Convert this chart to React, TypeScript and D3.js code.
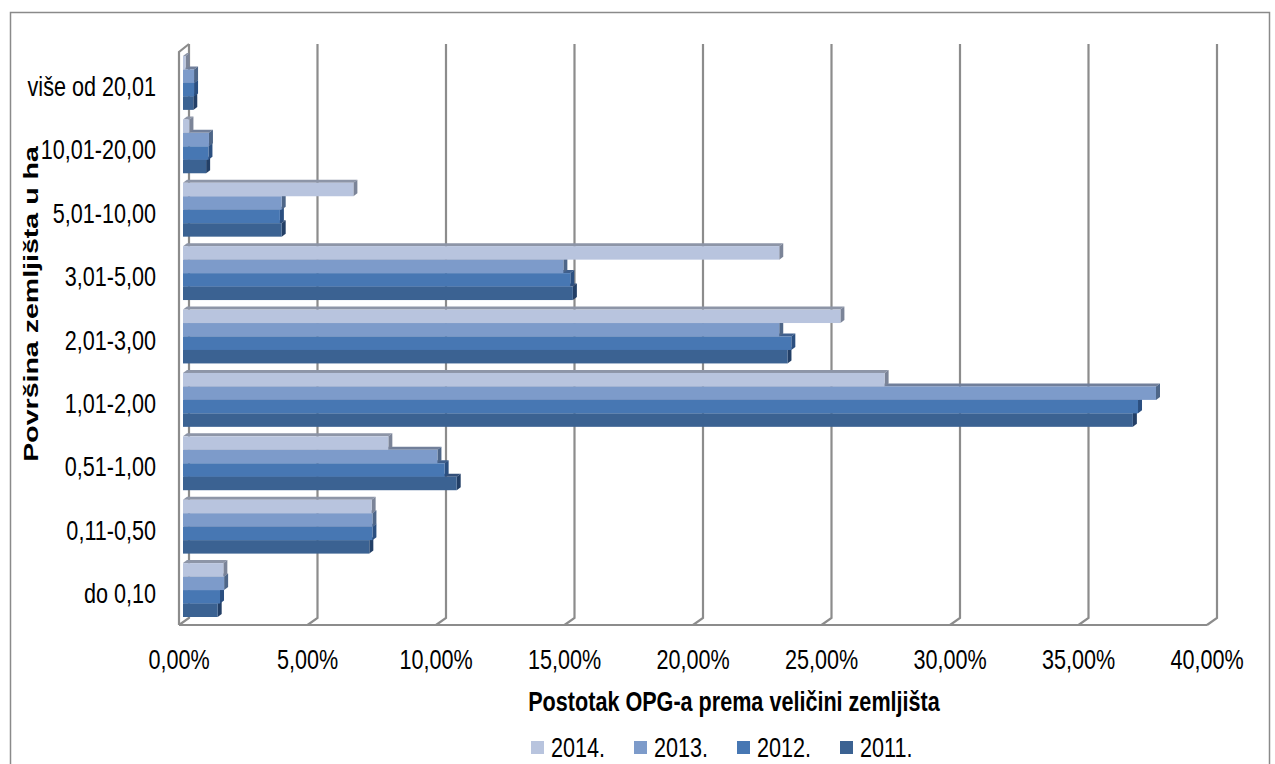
import React from "react";
import * as d3 from "d3";

const categories = ["do 0,10", "0,11-0,50", "0,51-1,00", "1,01-2,00", "2,01-3,00", "3,01-5,00", "5,01-10,00", "10,01-20,00", "više od 20,01"];
const years = ["2014.", "2013.", "2012.", "2011."];
const s2014 = [1.57, 7.34, 7.99, 27.3, 25.58, 23.2, 6.63, 0.25, 0.1];
const s2013 = [1.6, 7.37, 9.9, 37.86, 23.2, 14.8, 3.84, 1.01, 0.43];
const s2012 = [1.44, 7.37, 10.18, 37.16, 23.67, 15.07, 3.77, 0.99, 0.43];
const s2011 = [1.35, 7.25, 10.65, 36.96, 23.52, 15.17, 3.84, 0.9, 0.4];
const seriesValues = [s2014, s2013, s2012, s2011];
const tickValues = [0, 5, 10, 15, 20, 25, 30, 35, 40];
const xTitle = "Postotak OPG-a prema veličini zemljišta";
const yTitle = "Površina zemljišta u ha";

const frontColors = ["#b8c4de", "#7d9bca", "#4777b3", "#3b6292"];
const topColors = ["#8d95a7", "#717f9a", "#3f5f8d", "#34507a"];
const sideColors = ["#7b8498", "#4e6688", "#2b4f80", "#233f66"];

const FONT = "'Liberation Sans', Arial, sans-serif";
const GRID = "#8c8c8c";
const FS = 27;
const SX = 0.8;

function CText(props: { x: number; y: number; anchor: string; bold?: boolean; children: React.ReactNode }) {
  return (
    <text
      transform={`translate(${props.x},${props.y}) scale(${SX},1)`}
      textAnchor={props.anchor}
      fontFamily={FONT}
      fontSize={FS}
      fontWeight={props.bold ? "bold" : "normal"}
      fill="#000"
    >
      {props.children}
    </text>
  );
}

export default function App() {
  const xFront = d3.scaleLinear().domain([0, 40]).range([179, 1207]);
  const xBar = d3.scaleLinear().domain([0, 40]).range([183, 1211]);
  const wallDx = 10;
  const wallDy = -7;
  const floorY = 625;
  const wallTop = 44;
  const yBand = d3.scaleBand<string>().domain(categories).range([617, 56]).paddingInner(0.15).paddingOuter(0);
  const yInner = d3.scaleBand<string>().domain(years).range([0, yBand.bandwidth()]);
  const bdx = 4;
  const bdy = -3;
  const fmt = (v: number) => v.toFixed(2).replace(".", ",") + "%";

  const bars: React.ReactNode[] = [];
  categories.forEach((cat, ci) => {
    const y0 = yBand(cat)!;
    for (let si = years.length - 1; si >= 0; si--) {
      const v = seriesValues[si][ci];
      const yt = y0 + yInner(years[si])!;
      const h = yInner.bandwidth();
      const xl = xBar(0);
      const xr = xBar(v);
      bars.push(
        <g key={cat + si}>
          <polygon
            points={`${xl},${yt} ${xl + bdx},${yt + bdy} ${xr + bdx},${yt + bdy} ${xr},${yt}`}
            fill={topColors[si]}
          />
          <polygon
            points={`${xr},${yt} ${xr + bdx},${yt + bdy} ${xr + bdx},${yt + h + bdy} ${xr},${yt + h}`}
            fill={sideColors[si]}
          />
          <rect x={xl} y={yt} width={Math.max(0, xr - xl)} height={h} fill={frontColors[si]} />
        </g>
      );
    }
  });

  return (
    <svg width={1275} height={764} style={{ position: "absolute", left: 0, top: 0, background: "#fff" }}>
      <rect x={10.5} y={12.5} width={1259} height={800} fill="#fff" stroke="#8a8a8a" strokeWidth={1.5} />
      {tickValues.map((t) => (
        <polyline
          key={"g" + t}
          points={`${xFront(t) + wallDx},${wallTop} ${xFront(t) + wallDx},${floorY + wallDy} ${xFront(t)},${floorY}`}
          fill="none"
          stroke={GRID}
          strokeWidth={2.2}
        />
      ))}
      <polyline
        points={`${xFront(0)},${floorY} ${xFront(0)},${wallTop - wallDy + 1} ${xFront(0) + wallDx},${wallTop}`}
        fill="none"
        stroke={GRID}
        strokeWidth={2.2}
      />
      <line x1={xFront(0)} y1={floorY} x2={xFront(40)} y2={floorY} stroke={GRID} strokeWidth={2.2} />
      {bars}
      {categories.map((c) => (
        <CText key={"yl" + c} x={156} y={yBand(c)! + yBand.bandwidth() / 2 + 13} anchor="end">
          {c}
        </CText>
      ))}
      {tickValues.map((t) => (
        <CText key={"xl" + t} x={xFront(t)} y={669} anchor="middle">
          {fmt(t)}
        </CText>
      ))}
      <CText x={734} y={711} anchor="middle" bold>
        {xTitle}
      </CText>
      <text
        transform={`translate(38,304) rotate(-90) scale(1.36,1)`}
        textAnchor="middle"
        fontFamily={FONT}
        fontSize={21}
        fontWeight="bold"
        fill="#000"
      >
        {yTitle}
      </text>
      {years.map((yr, i) => (
        <g key={"lg" + yr}>
          <rect x={531 + i * 103} y={741} width={13} height={13} fill={frontColors[i]} />
          <CText x={531 + i * 103 + 20} y={757} anchor="start">
            {yr}
          </CText>
        </g>
      ))}
    </svg>
  );
}
